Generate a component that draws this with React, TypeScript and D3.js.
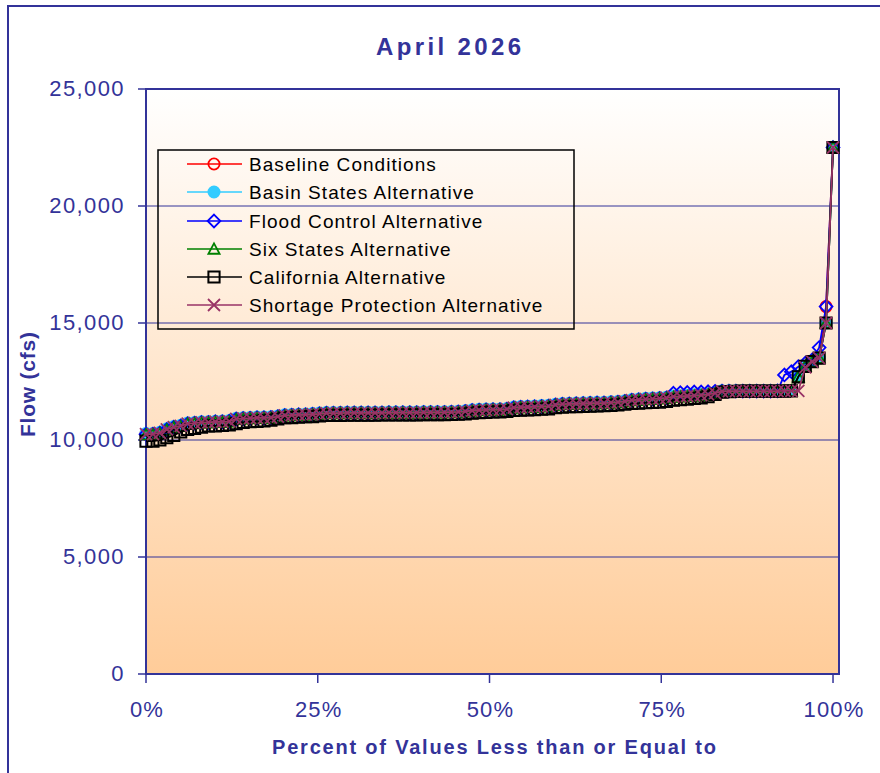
import React from 'react';
import * as d3 from 'd3';

const percentTicks = [0, 0.25, 0.5, 0.75, 1];
const percentLabels = ['0%', '25%', '50%', '75%', '100%'];
const flowTicks = [0, 5000, 10000, 15000, 20000, 25000];
const flowLabels = ['0', '5,000', '10,000', '15,000', '20,000', '25,000'];
const gridFlows = [5000, 10000, 15000, 20000];

const seriesNames = [
  'Baseline Conditions',
  'Basin States Alternative',
  'Flood Control Alternative',
  'Six States Alternative',
  'California Alternative',
  'Shortage Protection Alternative',
];
const seriesColors = ['#ff0000', '#33ccff', '#0000ff', '#008000', '#000000', '#993366'];
const seriesMarkers = ['circle', 'dot', 'diamond', 'triangle', 'square', 'x'];

const baselineFlow = [
  10250, 10250, 10300, 10450, 10550, 10600, 10700, 10720, 10750, 10750,
  10780, 10780, 10800, 10900, 10920, 10930, 10950, 10950, 10960, 11000,
  11050, 11060, 11080, 11080, 11100, 11120, 11150, 11150, 11150, 11160,
  11160, 11160, 11160, 11160, 11160, 11170, 11170, 11170, 11170, 11170,
  11180, 11180, 11180, 11180, 11190, 11200, 11220, 11260, 11280, 11290,
  11300, 11300, 11320, 11380, 11400, 11410, 11420, 11440, 11450, 11500,
  11530, 11540, 11550, 11560, 11570, 11580, 11580, 11600, 11620, 11650,
  11700, 11720, 11750, 11760, 11780, 11800, 11850, 11860, 11880, 11900,
  11920, 11950, 12000, 12080, 12090, 12090, 12090, 12090, 12090, 12090,
  12090, 12090, 12100, 12100, 12700, 13150, 13350, 13500, 15700, 22500,
];
const basinStatesFlow = [
  10280, 10280, 10330, 10480, 10580, 10630, 10730, 10750, 10780, 10780,
  10800, 10810, 10830, 10930, 10950, 10960, 10980, 10980, 10990, 11030,
  11080, 11090, 11100, 11110, 11130, 11150, 11180, 11180, 11180, 11190,
  11190, 11190, 11190, 11190, 11190, 11200, 11200, 11200, 11200, 11200,
  11210, 11210, 11210, 11210, 11220, 11230, 11250, 11290, 11310, 11320,
  11330, 11330, 11350, 11410, 11430, 11440, 11450, 11470, 11480, 11530,
  11560, 11570, 11580, 11590, 11600, 11610, 11610, 11630, 11650, 11680,
  11730, 11750, 11780, 11790, 11810, 11830, 11880, 11890, 11910, 11930,
  11950, 11980, 12030, 12100, 12100, 12100, 12100, 12100, 12100, 12100,
  12100, 12100, 12110, 12110, 12700, 13150, 13350, 13500, 15000, 22500,
];
const floodControlFlow = [
  10250, 10250, 10300, 10450, 10550, 10600, 10700, 10720, 10750, 10750,
  10780, 10780, 10800, 10900, 10920, 10930, 10950, 10950, 10960, 11000,
  11050, 11060, 11080, 11080, 11100, 11120, 11150, 11150, 11150, 11160,
  11160, 11160, 11160, 11160, 11160, 11170, 11170, 11170, 11170, 11170,
  11180, 11180, 11180, 11180, 11190, 11200, 11220, 11260, 11280, 11290,
  11300, 11300, 11320, 11380, 11400, 11410, 11420, 11440, 11450, 11500,
  11530, 11540, 11550, 11560, 11570, 11580, 11580, 11600, 11620, 11650,
  11700, 11720, 11750, 11760, 11780, 11800, 12000, 12020, 12030, 12050,
  12050, 12060, 12080, 12090, 12090, 12090, 12090, 12090, 12090, 12090,
  12090, 12100, 12780, 12920, 13130, 13280, 13420, 13950, 15700, 22500,
];
const sixStatesFlow = [
  10230, 10230, 10280, 10430, 10530, 10580, 10680, 10700, 10730, 10730,
  10760, 10760, 10780, 10880, 10900, 10910, 10930, 10930, 10940, 10980,
  11030, 11040, 11060, 11060, 11080, 11100, 11130, 11130, 11130, 11140,
  11140, 11140, 11140, 11140, 11140, 11150, 11150, 11150, 11150, 11150,
  11160, 11160, 11160, 11160, 11170, 11180, 11200, 11240, 11260, 11270,
  11280, 11280, 11300, 11360, 11380, 11390, 11400, 11420, 11430, 11480,
  11510, 11520, 11530, 11540, 11550, 11560, 11560, 11580, 11600, 11630,
  11680, 11700, 11730, 11740, 11760, 11780, 11830, 11840, 11860, 11880,
  11900, 11930, 11980, 12070, 12080, 12080, 12080, 12080, 12080, 12080,
  12080, 12080, 12090, 12100, 12700, 13150, 13350, 13500, 15000, 22500,
];
const californiaFlow = [
  9950, 9950, 10000, 10100, 10200, 10350, 10450, 10500, 10550, 10600,
  10600, 10620, 10650, 10700, 10750, 10780, 10800, 10820, 10850, 10900,
  10950, 10960, 10980, 11000, 11000, 11030, 11050, 11050, 11050, 11060,
  11060, 11060, 11060, 11060, 11070, 11070, 11070, 11070, 11070, 11070,
  11080, 11080, 11080, 11080, 11090, 11100, 11120, 11150, 11170, 11180,
  11200, 11200, 11220, 11260, 11280, 11290, 11300, 11320, 11330, 11380,
  11400, 11420, 11430, 11440, 11450, 11460, 11470, 11480, 11500, 11530,
  11560, 11580, 11600, 11610, 11620, 11650, 11700, 11720, 11750, 11780,
  11800, 11850, 11950, 12050, 12070, 12080, 12090, 12090, 12090, 12090,
  12090, 12090, 12090, 12100, 12700, 13150, 13350, 13500, 15000, 22500,
];
const shortageProtectionFlow = [
  10250, 10250, 10300, 10450, 10550, 10600, 10700, 10720, 10750, 10750,
  10780, 10780, 10800, 10900, 10920, 10930, 10950, 10950, 10960, 11000,
  11050, 11060, 11080, 11080, 11100, 11120, 11150, 11150, 11150, 11160,
  11160, 11160, 11160, 11160, 11160, 11170, 11170, 11170, 11170, 11170,
  11180, 11180, 11180, 11180, 11190, 11200, 11220, 11260, 11280, 11290,
  11300, 11300, 11320, 11380, 11400, 11410, 11420, 11440, 11450, 11500,
  11530, 11540, 11550, 11560, 11570, 11580, 11580, 11600, 11620, 11650,
  11700, 11720, 11750, 11760, 11780, 11800, 11850, 11860, 11880, 11900,
  11920, 11950, 12000, 12080, 12090, 12090, 12090, 12090, 12090, 12090,
  12090, 12090, 12100, 12100, 12100, 13100, 13350, 13500, 15000, 22500,
];

const seriesValues = [
  baselineFlow,
  basinStatesFlow,
  floodControlFlow,
  sixStatesFlow,
  californiaFlow,
  shortageProtectionFlow,
];

const FONT = '"Liberation Sans", Arial, Helvetica, sans-serif';
const NAVY = '#333399';

function markerPath(kind: string, s: number): string {
  switch (kind) {
    case 'circle':
    case 'dot':
      return d3.symbol(d3.symbolCircle, Math.PI * s * s)() as string;
    case 'square':
      return `M${-s},${-s}H${s}V${s}H${-s}Z`;
    case 'diamond':
      return `M0,${-s - 0.8}L${s + 0.8},0L0,${s + 0.8}L${-s - 0.8},0Z`;
    case 'triangle':
      return `M0,${-s}L${s},${s * 0.85}L${-s},${s * 0.85}Z`;
    case 'x':
      return `M${-s},${-s}L${s},${s}M${-s},${s}L${s},${-s}`;
  }
  return '';
}

function Marker({ kind, color, cx, cy }: { kind: string; color: string; cx: number; cy: number }) {
  const s = kind === 'x' ? 6 : 5.6;
  const filled = kind === 'dot';
  return (
    <path
      d={markerPath(kind, s)}
      transform={`translate(${cx},${cy})`}
      fill={filled ? color : 'none'}
      stroke={color}
      strokeWidth={kind === 'square' ? 2 : 1.8}
    />
  );
}

export default function App() {
  const x = d3.scaleLinear().domain([0, 1.0087]).range([146, 839]);
  const y = d3.scaleLinear().domain([0, 25000]).range([674, 89]);
  const line = d3
    .line<number>()
    .x((_, i, arr) => x(i / ((arr as number[]).length - 1)))
    .y((d) => y(d));

  const legendX = 158;
  const legendY = 150;
  const legendRows = [164, 192, 221, 249, 277, 305];

  return (
    <svg
      width={880}
      height={773}
      style={{ position: 'absolute', left: 0, top: 0, fontFamily: FONT }}
    >
      <defs>
        <linearGradient id="plotbg" x1="0" y1="0" x2="0" y2="1">
          <stop offset="0" stopColor="#ffffff" />
          <stop offset="1" stopColor="#ffcc99" />
        </linearGradient>
      </defs>
      <rect x={0} y={0} width={880} height={773} fill="#ffffff" />
      <rect x={8} y={6} width={900} height={800} fill="none" stroke={NAVY} strokeWidth={2} />

      {/* plot area */}
      <rect x={146} y={89} width={693} height={585} fill="url(#plotbg)" />
      {gridFlows.map((f) => (
        <line key={f} x1={146} x2={839} y1={y(f)} y2={y(f)} stroke={NAVY} strokeWidth={1} />
      ))}
      <rect x={146} y={89} width={693} height={585} fill="none" stroke={NAVY} strokeWidth={2} />

      {/* y axis ticks and labels */}
      {flowTicks.map((f, i) => (
        <g key={f}>
          <line x1={138} x2={146} y1={y(f)} y2={y(f)} stroke={NAVY} strokeWidth={1.5} />
          <text
            x={125}
            y={y(f) + 7}
            textAnchor="end"
            fontSize={22}
            letterSpacing={1.4}
            fill={NAVY}
          >
            {flowLabels[i]}
          </text>
        </g>
      ))}

      {/* x axis ticks and labels */}
      {percentTicks.map((p, i) => (
        <g key={p}>
          <line x1={x(p)} x2={x(p)} y1={674} y2={683} stroke={NAVY} strokeWidth={1.5} />
          <text x={x(p) + 1} y={717} textAnchor="middle" fontSize={22} letterSpacing={1.2} fill={NAVY}>
            {percentLabels[i]}
          </text>
        </g>
      ))}

      {/* titles */}
      <text x={376} y={55} fontSize={24} fontWeight="bold" fill={NAVY} textLength={145} lengthAdjust="spacing">
        April 2026
      </text>
      <text x={272} y={754} fontSize={20} fontWeight="bold" fill={NAVY} textLength={444} lengthAdjust="spacing">
        Percent of Values Less than or Equal to
      </text>
      <text
        transform="translate(35,437) rotate(-90)"
        x={0}
        y={0}
        fontSize={21}
        fontWeight="bold"
        fill={NAVY}
        textLength={105}
        lengthAdjust="spacing"
      >
        Flow (cfs)
      </text>

      {/* series */}
      {seriesValues.map((vals, si) => (
        <g key={seriesNames[si]}>
          <path d={line(vals) as string} fill="none" stroke={seriesColors[si]} strokeWidth={1.8} />
          {vals.map((v, i) => (
            <Marker
              key={i}
              kind={seriesMarkers[si]}
              color={seriesColors[si]}
              cx={x(i / (vals.length - 1))}
              cy={y(v)}
            />
          ))}
        </g>
      ))}

      {/* legend */}
      <rect x={legendX} y={legendY} width={416} height={179} fill="none" stroke="#000000" strokeWidth={1.5} />
      {seriesNames.map((name, si) => (
        <g key={name}>
          <line x1={187} x2={242} y1={legendRows[si]} y2={legendRows[si]} stroke={seriesColors[si]} strokeWidth={1.6} />
          <Marker kind={seriesMarkers[si]} color={seriesColors[si]} cx={214} cy={legendRows[si]} />
          <text x={249} y={legendRows[si] + 7} fontSize={19} letterSpacing={1.05} fill="#000000">
            {name}
          </text>
        </g>
      ))}
    </svg>
  );
}
